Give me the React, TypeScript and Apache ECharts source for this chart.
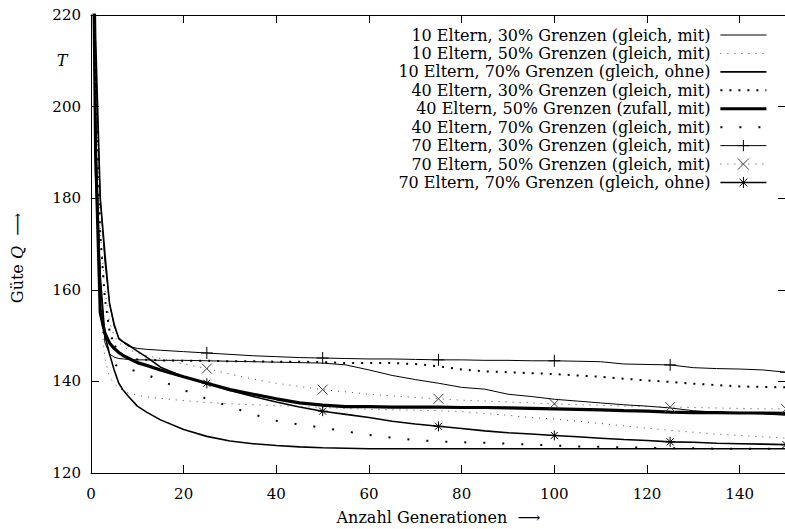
import React, { useEffect, useRef } from "react";
import * as echarts from "echarts";

// ---- data ----
const generations = [0, 1, 2, 3, 4, 5, 6, 7, 8, 10, 12, 15, 20, 25, 30, 35, 40, 45, 50, 55, 60, 65, 70, 75, 80, 85, 90, 95, 100, 105, 110, 115, 120, 125, 130, 135, 140, 145, 150];

const e10p30 = [280, 195, 162, 148.5, 146, 145.3, 145, 144.9, 144.8, 144.7, 144.7, 144.6, 144.6, 144.5, 144.4, 144.3, 144.2, 144.1, 144.0, 143.6, 142.5, 141.3, 140.4, 139.6, 138.7, 138.3, 137.2, 136.7, 136.1, 135.7, 135.3, 134.9, 134.6, 134.2, 133.6, 133.3, 133.1, 132.9, 132.6];
const e10p50 = [270, 185, 156, 145, 141, 139.5, 138.6, 138, 137.5, 137, 136.6, 136.3, 135.8, 135.4, 135.1, 134.9, 134.7, 134.5, 134.3, 134.1, 133.9, 133.8, 133.7, 133.6, 133.4, 133.0, 132.6, 132.1, 131.8, 131.3, 130.8, 130.3, 129.8, 129.3, 128.9, 128.5, 128.2, 127.9, 127.6];
const e10p70 = [300, 185, 163, 150, 146, 142.5, 139.6, 138.0, 136.8, 134.6, 133.3, 131.6, 129.5, 128.0, 127.0, 126.4, 126.0, 125.7, 125.5, 125.4, 125.3, 125.3, 125.3, 125.3, 125.3, 125.3, 125.3, 125.3, 125.3, 125.3, 125.3, 125.3, 125.3, 125.3, 125.3, 125.3, 125.3, 125.3, 125.3];
const e40p30 = [285, 205, 172, 158, 151, 148, 146.5, 145.5, 145, 144.8, 144.7, 144.6, 144.5, 144.5, 144.4, 144.4, 144.3, 144.3, 144.2, 144.0, 144.0, 144.0, 143.8, 143.3, 142.6, 142.2, 142.0, 141.8, 141.6, 141.3, 141.0, 140.6, 140.2, 139.9, 139.5, 139.2, 138.9, 138.8, 138.7];
const e40p50 = [285, 190, 155, 150.5, 148.4, 147.2, 146.3, 145.6, 145.1, 144.1, 143.5, 142.5, 141.0, 139.6, 138.2, 137.2, 136.2, 135.3, 134.8, 134.5, 134.5, 134.4, 134.4, 134.4, 134.3, 134.3, 134.2, 134.1, 134.0, 133.9, 133.8, 133.6, 133.5, 133.3, 133.2, 133.2, 133.1, 133.1, 133.0];
const e40p70 = [280, 190, 160, 150, 146, 144, 142.8, 142.6, 142.5, 142.3, 141.5, 140.2, 138.1, 136.2, 134.5, 132.8, 131.4, 130.6, 129.9, 129.1, 128.3, 127.7, 127.2, 126.9, 126.7, 126.6, 126.4, 126.2, 126.0, 125.8, 125.7, 125.6, 125.5, 125.4, 125.4, 125.3, 125.3, 125.3, 125.3];
const e70p30 = [300, 210, 180, 166, 157, 152, 149.6, 148.5, 147.7, 147.2, 147.0, 146.8, 146.5, 146.2, 145.9, 145.6, 145.4, 145.2, 145.1, 145.0, 144.9, 144.9, 144.8, 144.7, 144.7, 144.6, 144.6, 144.5, 144.5, 144.4, 144.3, 143.8, 143.7, 143.6, 143.0, 142.8, 142.7, 142.5, 142.0];
const e70p50 = [285, 205, 173, 160, 153, 150, 148.5, 147.6, 147, 146.2, 145.6, 145.0, 143.8, 142.8, 141.6, 140.5, 139.6, 138.9, 138.2, 137.7, 137.2, 136.8, 136.5, 136.2, 135.9, 135.7, 135.5, 135.3, 135.1, 134.9, 134.8, 134.6, 134.5, 134.4, 134.3, 134.2, 134.1, 134.0, 134.0];
const e70p70 = [290, 215, 180, 168, 157, 152.5, 149.3, 148.6, 148, 146.6, 145.3, 143.1, 141.0, 139.6, 138.0, 136.7, 135.5, 134.4, 133.5, 132.8, 132.1, 131.3, 130.7, 130.2, 129.7, 129.2, 128.8, 128.5, 128.2, 127.9, 127.6, 127.3, 127.1, 126.8, 126.7, 126.5, 126.4, 126.3, 126.2];

const seriesNames = [
  "10 Eltern, 30% Grenzen (gleich, mit)",
  "10 Eltern, 50% Grenzen (gleich, mit)",
  "10 Eltern, 70% Grenzen (gleich, ohne)",
  "40 Eltern, 30% Grenzen (gleich, mit)",
  "40 Eltern, 50% Grenzen (zufall, mit)",
  "40 Eltern, 70% Grenzen (gleich, mit)",
  "70 Eltern, 30% Grenzen (gleich, mit)",
  "70 Eltern, 50% Grenzen (gleich, mit)",
  "70 Eltern, 70% Grenzen (gleich, ohne)",
];
const seriesValues = [e10p30, e10p50, e10p70, e40p30, e40p50, e40p70, e70p30, e70p50, e70p70];
const markerGenerations = [25, 50, 75, 100, 125, 150];

const xTickInterval = 20;
const yTickInterval = 20;

// ---- styles ----
const FONT = "DejaVu Serif";
const PLUS = "path://M5,0L5,10M0,5L10,5";
const CROSS = "path://M0,0L10,10M0,10L10,0";
const STAR = "path://M5,0L5,10M0,5L10,5M1.5,1.5L8.5,8.5M1.5,8.5L8.5,1.5";

type LineDef = { color: string; width: number; type: any; marker?: string; size?: number };
const lineDefs: LineDef[] = [
  { color: "#000", width: 1, type: "solid" },
  { color: "#444", width: 1, type: [1, 6] },
  { color: "#000", width: 1.6, type: "solid" },
  { color: "#000", width: 2, type: [2, 7] },
  { color: "#000", width: 3.2, type: "solid" },
  { color: "#000", width: 2, type: [2, 17] },
  { color: "#000", width: 1, type: "solid", marker: PLUS, size: 12 },
  { color: "#444", width: 1, type: [1, 6], marker: CROSS, size: 10 },
  { color: "#000", width: 1.6, type: "solid", marker: STAR, size: 10 },
];

export default function App() {
  const ref = useRef<HTMLDivElement>(null);
  useEffect(() => {
    if (!ref.current) return;
    const chart = echarts.init(ref.current, undefined, { renderer: "svg" });

    const series = seriesNames.map((name, si) => {
      const d = lineDefs[si];
      const vals = seriesValues[si];
      return {
        name,
        type: "line",
        xAxisIndex: 0,
        yAxisIndex: 0,
        silent: true,
        clip: true,
        showSymbol: true,
        symbol: d.marker ? d.marker : "none",
        symbolSize: d.size || 8,
        data: generations.map((g, i) =>
          d.marker && markerGenerations.includes(g)
            ? [g, vals[i]]
            : { value: [g, vals[i]], symbol: "none" }
        ),
        lineStyle: { color: d.color, width: d.width, type: d.type, cap: "butt" },
        itemStyle: { color: "#000", borderColor: d.color, borderWidth: 1 },
        emphasis: { disabled: true },
      };
    });

    const legendData = seriesNames.map((name, si) => {
      const d = lineDefs[si];
      return {
        name,
        lineStyle: { color: d.color, width: d.width, type: d.type },
        itemStyle: d.marker
          ? { color: "#000", borderColor: d.color, borderWidth: 1, opacity: 1 }
          : { opacity: 0 },
      };
    });

    const axisCommonX = {
      type: "value",
      min: 0,
      max: 150,
      interval: xTickInterval,
      splitLine: { show: false },
      axisLine: { show: true, onZero: false, lineStyle: { color: "#000", width: 1 } },
      axisTick: { show: true, inside: true, length: 8, lineStyle: { color: "#000", width: 1 } },
    };
    const axisCommonY = {
      type: "value",
      min: 120,
      max: 220,
      interval: yTickInterval,
      splitLine: { show: false },
      axisLine: { show: true, onZero: false, lineStyle: { color: "#000", width: 1 } },
      axisTick: { show: true, inside: true, length: 8, lineStyle: { color: "#000", width: 1 } },
    };

    chart.setOption({
      animation: false,
      backgroundColor: "#fff",
      textStyle: { fontFamily: FONT, color: "#000" },
      grid: { left: 91, right: -1, top: 15, bottom: 56, containLabel: false, outerBoundsMode: "none" },
      xAxis: [
        {
          ...axisCommonX,
          position: "bottom",
          axisLabel: { color: "#000", fontFamily: FONT, fontSize: 15, margin: 13, showMaxLabel: false },
          name: "Anzahl Generationen  \u27F6",
          nameLocation: "middle",
          nameGap: 36,
          nameTextStyle: { color: "#000", fontFamily: FONT, fontSize: 16 },
        },
        { ...axisCommonX, position: "top", axisLabel: { show: false } },
      ],
      yAxis: [
        {
          ...axisCommonY,
          position: "left",
          axisLabel: { color: "#000", fontFamily: FONT, fontSize: 15, margin: 10 },
        },
        { ...axisCommonY, position: "right", axisLabel: { show: false } },
      ],
      legend: {
        orient: "vertical",
        right: 17,
        top: 26,
        padding: 0,
        align: "right",
        itemWidth: 46,
        itemHeight: 14,
        itemGap: 0.44,
        selectedMode: false,
        textStyle: { color: "#000", fontFamily: FONT, fontSize: 16, lineHeight: 18, padding: [0, 5, 0, 0] },
        data: legendData,
      },
      graphic: [
        {
          type: "text",
          x: 62,
          y: 60,
          style: { text: "T", fontFamily: FONT, fontSize: 16, fontStyle: "italic", fill: "#000", align: "center", verticalAlign: "middle" },
        },
        {
          type: "text",
          x: 17,
          y: 258,
          rotation: Math.PI / 2,
          style: {
            text: "G\u00fcte {i|Q}  \u27F6",
            fontFamily: FONT,
            fontSize: 16,
            fill: "#000",
            align: "center",
            verticalAlign: "middle",
            rich: { i: { fontFamily: FONT, fontSize: 16, fontStyle: "italic", fill: "#000" } },
          },
        },
      ],
      series,
    });
    return () => chart.dispose();
  }, []);
  return <div ref={ref} style={{ position: "absolute", left: 0, top: 0, width: 785, height: 529 }} />;
}
